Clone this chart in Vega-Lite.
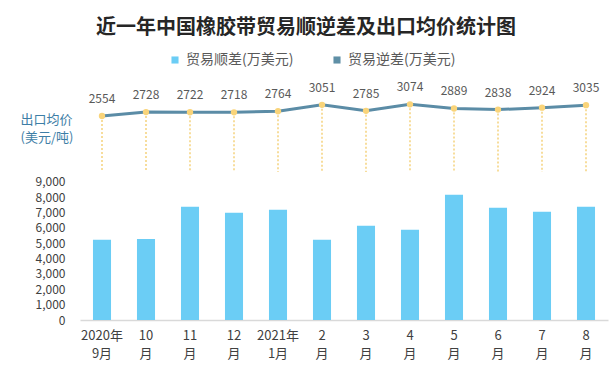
{
  "$schema": "https://vega.github.io/schema/vega-lite/v6.json",
  "width": 528,
  "height": 235,
  "autosize": {"type": "none"},
  "padding": {"left": 80, "top": 85, "right": 5, "bottom": 47},
  "background": "white",
  "config": {"view": {"stroke": null}, "font": "Noto Sans CJK SC"},
  "title": {
    "text": "近一年中国橡胶带贸易顺逆差及出口均价统计图",
    "font": "Noto Sans CJK SC",
    "fontSize": 20,
    "fontWeight": "bold",
    "color": "#262626",
    "anchor": "middle",
    "frame": "group",
    "dx": -38,
    "dy": 2,
    "offset": 17
  },
  "data": {
    "values": [
      {"month": "2020年|9月", "surplus": 5230, "price": 2554, "series": "贸易顺差(万美元)"},
      {"month": "10|月", "surplus": 5290, "price": 2728, "series": "贸易顺差(万美元)"},
      {"month": "11|月", "surplus": 7390, "price": 2722, "series": "贸易顺差(万美元)"},
      {"month": "12|月", "surplus": 6990, "price": 2718, "series": "贸易顺差(万美元)"},
      {"month": "2021年|1月", "surplus": 7190, "price": 2764, "series": "贸易顺差(万美元)"},
      {"month": "2|月", "surplus": 5230, "price": 3051, "series": "贸易顺差(万美元)"},
      {"month": "3|月", "surplus": 6140, "price": 2785, "series": "贸易顺差(万美元)"},
      {"month": "4|月", "surplus": 5880, "price": 3074, "series": "贸易顺差(万美元)"},
      {"month": "5|月", "surplus": 8170, "price": 2889, "series": "贸易顺差(万美元)"},
      {"month": "6|月", "surplus": 7320, "price": 2838, "series": "贸易顺差(万美元)"},
      {"month": "7|月", "surplus": 7060, "price": 2924, "series": "贸易顺差(万美元)"},
      {"month": "8|月", "surplus": 7390, "price": 3035, "series": "贸易顺差(万美元)"}
    ]
  },
  "encoding": {
    "x": {
      "field": "month",
      "type": "ordinal",
      "sort": null,
      "scale": {"paddingInner": 0.59, "paddingOuter": 0.295},
      "axis": {
        "title": null,
        "labelAngle": 0,
        "labelExpr": "split(datum.label, '|')",
        "domainColor": "#d9d9d9",
        "domainWidth": 1.5,
        "ticks": false,
        "labelFontSize": 13,
        "labelColor": "#404040",
        "labelPadding": 9,
        "labelLineHeight": 18,
        "labelBaseline": "top"
      }
    }
  },
  "layer": [
    {
      "mark": {"type": "bar"},
      "encoding": {
        "y": {
          "field": "surplus",
          "type": "quantitative",
          "scale": {"domain": [0, 15326], "nice": false},
          "axis": {
            "orient": "left",
            "values": [0, 1000, 2000, 3000, 4000, 5000, 6000, 7000, 8000, 9000],
            "format": ",d",
            "grid": false,
            "domain": false,
            "ticks": false,
            "title": null,
            "labelPadding": 15,
            "labelFontSize": 12,
            "labelColor": "#404040"
          }
        },
        "color": {
          "field": "series",
          "type": "nominal",
          "scale": {"domain": ["贸易顺差(万美元)", "贸易逆差(万美元)"], "range": ["#6bcdf5", "#5f8fa6"]},
          "legend": {
            "title": null,
            "orient": "none",
            "direction": "horizontal",
            "legendX": 88,
            "legendY": -32,
            "symbolType": "square",
            "symbolSize": 50,
            "symbolStrokeWidth": 0,
            "labelFontSize": 14,
            "labelColor": "#595959",
            "labelOffset": 4,
            "labelLimit": 200,
            "columnPadding": 36
          }
        }
      }
    },
    {
      "encoding": {
        "y": {
          "field": "price",
          "type": "quantitative",
          "scale": {"domain": [-6512, 3932], "nice": false, "zero": false},
          "axis": {
            "orient": "left",
            "labels": false,
            "ticks": false,
            "domain": false,
            "grid": false,
            "title": ["出口均价", "(美元/吨)"],
            "titleAngle": 0,
            "titleAlign": "left",
            "titleBaseline": "top",
            "titleX": -60,
            "titleY": 28,
            "titleColor": "#3d7ea6",
            "titleFontSize": 13,
            "titleFontWeight": "normal",
            "titleLineHeight": 18
          }
        }
      },
      "layer": [
        {
          "mark": {"type": "rule", "strokeDash": [2, 2], "color": "#f5d27c", "strokeWidth": 1.5},
          "encoding": {"y2": {"datum": 65}}
        },
        {
          "mark": {"type": "line", "color": "#5b8ca6", "strokeWidth": 3},
          "encoding": {}
        },
        {
          "mark": {"type": "point", "filled": true, "color": "#f9d47a", "size": 40, "opacity": 1},
          "encoding": {}
        },
        {
          "mark": {"type": "text", "dy": -17, "fontSize": 12, "color": "#595959"},
          "encoding": {"text": {"field": "price", "type": "quantitative", "format": "d"}}
        }
      ]
    }
  ],
  "resolve": {"scale": {"y": "independent"}}
}
